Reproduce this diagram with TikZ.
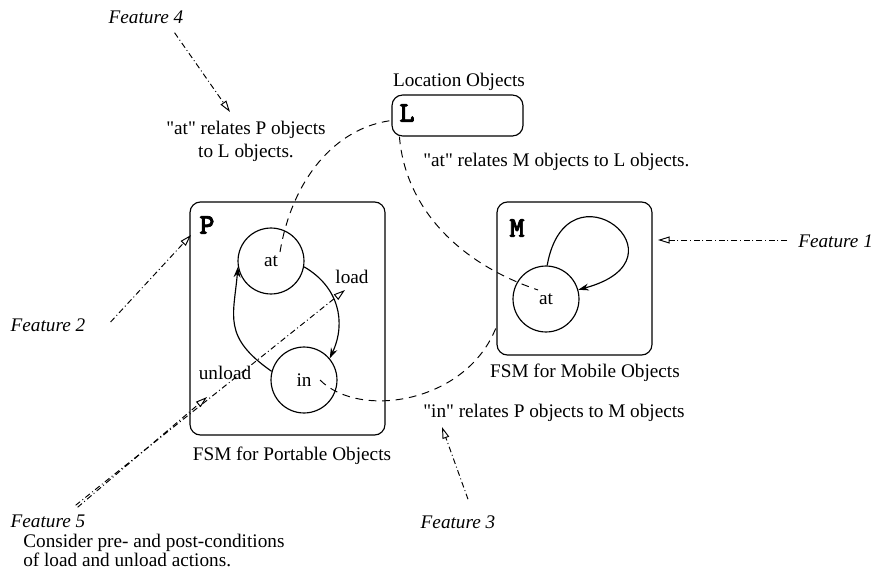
\documentclass[tikz,border=0pt]{standalone}
\usepackage{fontspec}
\setmainfont{Liberation Serif}[Ligatures=TeXOff]
\newfontfamily\boxfont{lmmonolt10-bold.otf}[FakeBold=2.5]
\usetikzlibrary{arrows.meta}
\begin{document}
\begin{tikzpicture}[x=0.52pt,y=0.52pt,
        txt/.style={inner sep=1pt},
        feat/.style={font=\itshape,inner sep=1pt},
        fsm/.style={draw,rounded corners=5.5pt,inner sep=0pt,line width=0.6pt},
        state/.style={draw,circle,minimum size=34.3pt,inner sep=0pt,line width=0.6pt},
        lbl/.style={font=\fontsize{15}{15}\selectfont\boxfont,inner sep=0pt},
        rel/.style={line width=0.5pt,dash pattern=on 4pt off 3pt},
        hint/.style={line width=0.5pt,dash pattern=on 3pt off 1.5pt on 0.5pt off 1.5pt,
            -{Triangle[open,length=6pt,width=3.6pt]}},
        trans/.style={line width=0.6pt,-{Stealth[length=5.5pt,width=3.6pt]}}]
    \useasboundingbox (0,0) rectangle (872,-588);
    \node[fsm,minimum width=68.1pt,minimum height=21.3pt] (Lbox) at (457.5,-115.5) {};
    \node[fsm,minimum width=101.4pt,minimum height=121.2pt] (Pbox) at (287.5,-318.5) {};
    \node[fsm,minimum width=80.6pt,minimum height=79.6pt] (Mbox) at (574.5,-278.5) {};
    \node[lbl] (Llbl) at (407,-113) {L};
    \node[lbl] (Plbl) at (207,-225) {P};
    \node[lbl] (Mlbl) at (517,-228) {M};
    \node[state] (atP) at (271,-261) {at};
    \node[state] (inP) at (304,-380) {in};
    \node[state] (Mat) at (546,-299) {at};
    \node[txt] (load) at (352,-277) {load};
    \node[txt] (unload) at (225,-373) {unload};
    \node[txt] (loctxt) at (459,-82) {Location Objects};
    \node[txt,align=center] (atPtxt) at (246,-141) {"at" relates P objects\\to L objects.};
    \node[txt,anchor=west] (atMtxt) at (421,-162) {"at" relates M objects to L objects.};
    \node[txt,anchor=west] (inMtxt) at (421,-413) {"in" relates P objects to M objects};
    \node[txt] (fsmP) at (292,-456) {FSM for Portable Objects};
    \node[txt] (fsmM) at (585,-373) {FSM for Mobile Objects};
    \node[feat,anchor=west] (f1) at (796,-241) {Feature 1};
    \node[feat] (f2) at (48,-325) {Feature 2};
    \node[feat] (f3) at (458,-522) {Feature 3};
    \node[feat] (f4) at (146,-17) {Feature 4};
    \node[feat] (f5) at (48,-521) {Feature 5};
    \node[txt,anchor=north west,align=left] (f5note) at (21,-532)
        {Consider pre- and post-conditions\\[-2pt]of load and unload actions.};
    \draw[trans] (atP.-10) .. controls +(-30:40) and +(65:40) .. (inP.40);
    \draw[trans] (inP.165) .. controls +(145:60) and +(-95:50) .. (atP.190);
    \draw[trans] (Mat.88) .. controls +(80:110) and +(15:120) .. (Mat.16);
    \draw[rel] ([shift={(9,9)}]atP.center) .. controls +(12,72) and +(-57,-7.5) .. ([shift={(0,-5)}]Lbox.west);
    \draw[rel] ([shift={(16,0)}]inP.center) .. controls +(40,-40) and +(-29,-76) .. ([shift={(0,29)}]Mbox.south west);
    \draw[rel] ([shift={(8,0)}]Lbox.south west) .. controls +(5,-64) and +(-88,30) .. ([shift={(-8,9)}]Mat.center);
    \coordinate (t1) at (658,-240);
    \coordinate (t2) at (191,-235);
    \coordinate (t3) at (442,-427);
    \coordinate (t4) at (230,-112);
    \coordinate (t5a) at (207,-397);
    \coordinate (t5b) at (345,-290);
    \draw[hint] ([shift={(-9,1)}]f1.west) -- (t1);
    \draw[hint] ([shift={(23,3)}]f2.east) -- (t2);
    \draw[hint] ([shift={(10,14)}]f3.north) -- (t3);
    \draw[hint] ([shift={(-11,-7)}]f4.south east) -- (t4);
    \draw[hint] ([shift={(-10,5)}]f5.north east) -- (t5a);
    \draw[hint] ([shift={(-12,7)}]f5.north east) -- (t5b);
\end{tikzpicture}
\end{document}
